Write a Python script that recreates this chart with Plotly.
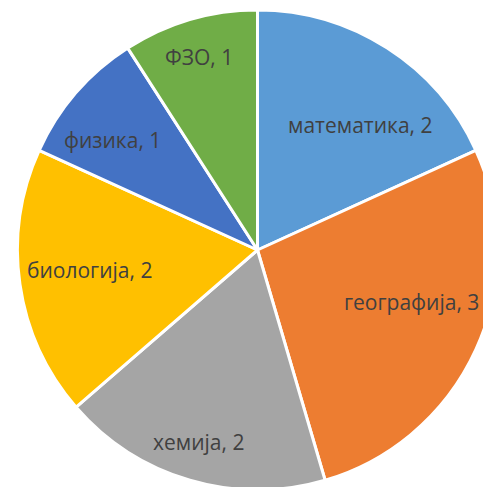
import math
import plotly.graph_objects as go

subjects = ["математика", "географија", "хемија", "биологија", "физика", "ФЗО"]
counts = [2, 3, 2, 2, 1, 1]
colors = ["#5B9BD5", "#ED7D31", "#A5A5A5", "#FFC000", "#4472C4", "#70AD47"]

# label placement (layout only): radial fraction and angular nudge (deg) per slice
label_rfrac = [0.673, 0.679, 0.838, 0.703, 0.758, 0.840]
label_dtheta = [6.7, -5.9, 0.8, 1.4, -3.9, -0.5]

W, H = 515, 500
R = 240  # pie radius in px given the domain below

fig = go.Figure(go.Pie(
    labels=subjects,
    values=counts,
    sort=False,
    direction="clockwise",
    rotation=0,
    marker=dict(colors=colors, line=dict(color="white", width=3)),
    textinfo="none",
    domain=dict(x=[0, 1], y=[0.02, 0.98]),
    hoverinfo="label+value",
))

total = sum(counts)
cum = 0
annotations = []
for name, v, rf, dt in zip(subjects, counts, label_rfrac, label_dtheta):
    mid = math.radians((cum + v / 2) / total * 360 + dt)
    cum += v
    r = R * rf
    dx = r * math.sin(mid)
    dy = r * math.cos(mid)
    annotations.append(dict(
        x=0.5 + dx / W, y=0.5 + dy / H, xref="paper", yref="paper",
        text=f"{name}, {v}", showarrow=False,
        xanchor="center", yanchor="middle",
        font=dict(family="Open Sans, Liberation Sans, sans-serif", size=21, color="#404040"),
    ))

fig.update_layout(
    width=W, height=H,
    margin=dict(l=0, r=0, t=0, b=0),
    showlegend=False,
    paper_bgcolor="white",
    plot_bgcolor="white",
    annotations=annotations,
)

fig.write_html(
    "out.html",
    config={"displayModeBar": False},
    post_script="document.body.style.margin='0';document.body.style.overflow='hidden';document.documentElement.style.overflow='hidden';",
)
